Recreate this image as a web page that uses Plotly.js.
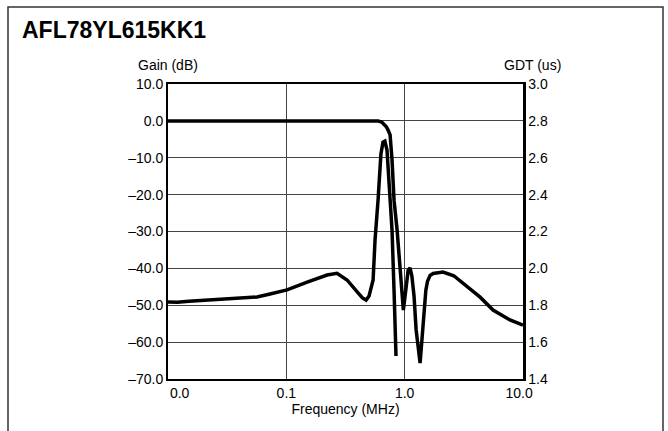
<!DOCTYPE html>
<html>
<head>
<meta charset="utf-8">
<script src="https://cdn.plot.ly/plotly-3.0.1.min.js"></script>
<style>
html,body{margin:0;padding:0;background:#fff;}
#chart{width:668px;height:431px;}
</style>
</head>
<body>
<div id="chart"></div>
<script>
// Frequency tick positions and labels (end labels padded so they sit inside the frame, as in the original)
const NB = "\u00a0";
const xTickVals = [0.01, 0.1, 1, 10];
const xTickText = [NB.repeat(6) + "0.0", "0.1", "1.0", "10.0" + NB.repeat(2)];
// Left axis (Gain) ticks
const gainTickVals = [10, 0, -10, -20, -30, -40, -50, -60, -70];
const gainTickText = ["10.0", "0.0", "\u201310.0", "\u201320.0", "\u201330.0", "\u201340.0", "\u201350.0", "\u201360.0", "\u201370.0"];
// Right axis (GDT) ticks
const gdtTickVals = [3.0, 2.8, 2.6, 2.4, 2.2, 2.0, 1.8, 1.6, 1.4];
const gdtTickText = ["3.0", "2.8", "2.6", "2.4", "2.2", "2.0", "1.8", "1.6", "1.4"];

// Gain series (MHz, dB)
const gainFreq = [0.01, 0.03, 0.1, 0.3, 0.5, 0.596, 0.64, 0.67, 0.70, 0.724, 0.753, 0.782, 0.813, 0.863, 0.914, 0.975, 1.03, 1.07, 1.11, 1.15, 1.20, 1.25, 1.35, 1.43, 1.51, 1.56, 1.64, 1.74, 2.11, 2.6, 3.11, 4.34, 5.58, 7.76, 10];
const gainDb   = [0, 0, 0, 0, 0, -0.05, -0.3, -0.85, -1.6, -2.5, -3.8, -10.6, -21.5, -29.6, -40.4, -51.3, -45.0, -40.5, -39.9, -42.0, -47.5, -56.7, -65.7, -56.7, -45.9, -43.5, -41.9, -41.4, -41.0, -42.0, -44.0, -47.8, -51.3, -54.0, -55.4];

// Group delay series (MHz, us)
const gdtFreq = [0.01, 0.012, 0.015, 0.02, 0.0275, 0.04, 0.0565, 0.0728, 0.1014, 0.15, 0.221, 0.268, 0.326, 0.397, 0.44, 0.472, 0.50, 0.541, 0.562, 0.596, 0.63, 0.656, 0.68, 0.709, 0.738, 0.782, 0.813, 0.845];
const gdtUs   = [1.818, 1.816, 1.822, 1.826, 1.834, 1.838, 1.845, 1.861, 1.883, 1.926, 1.964, 1.973, 1.937, 1.872, 1.840, 1.828, 1.850, 1.937, 2.154, 2.371, 2.620, 2.685, 2.690, 2.642, 2.479, 2.208, 1.883, 1.525];

const FONT = "Liberation Sans, Arial, Helvetica, sans-serif";

const traces = [
  {x: gainFreq, y: gainDb, type: "scatter", mode: "lines", name: "Gain",
   line: {color: "#000", width: 3.5}, yaxis: "y"},
  {x: gdtFreq, y: gdtUs, type: "scatter", mode: "lines", name: "GDT",
   line: {color: "#000", width: 3.5}, yaxis: "y2"}
];

const layout = {
  width: 668, height: 431,
  margin: {l: 168, r: 145, t: 84, b: 52},
  paper_bgcolor: "#fff", plot_bgcolor: "#fff",
  showlegend: false,
  font: {family: FONT, size: 14, color: "#000"},
  title: {text: "<b>AFL78YL615KK1</b>", x: 22/668, xanchor: "left", xref: "container",
          y: 1 - 30/431, yanchor: "middle", yref: "container",
          font: {family: FONT, size: 23, color: "#000"}},
  xaxis: {type: "log", range: [-2, 1], tickvals: xTickVals, ticktext: xTickText,
          showgrid: true, gridcolor: "#444", gridwidth: 1, zeroline: false,
          showline: true, linecolor: "#000", linewidth: 2, mirror: true,
          ticks: "", tickfont: {size: 14},
          title: {text: "Frequency (MHz)", standoff: 0, font: {size: 14}}},
  yaxis: {range: [-70, 10], tickvals: gainTickVals, ticktext: gainTickText,
          showgrid: true, gridcolor: "#444", gridwidth: 1, zeroline: false,
          showline: true, linecolor: "#000", linewidth: 2, ticks: "", tickfont: {size: 14}},
  yaxis2: {range: [1.4, 3.0], overlaying: "y", side: "right",
           tickvals: gdtTickVals, ticktext: gdtTickText,
           showgrid: false, zeroline: false,
           showline: true, linecolor: "#000", linewidth: 2.5, ticks: "", tickfont: {size: 14}},
  annotations: [
    {text: "Gain (dB)", xref: "paper", yref: "paper", x: 0.0, y: (379-65)/295,
     xanchor: "center", yanchor: "middle", showarrow: false, font: {size: 14}},
    {text: "GDT (us)", xref: "paper", yref: "paper", x: (532-168)/355, y: (379-65)/295,
     xanchor: "center", yanchor: "middle", showarrow: false, font: {size: 14}}
  ],
  shapes: [
    {type: "rect", xref: "paper", yref: "paper",
     x0: (8-168)/355, x1: (663-168)/355, y0: (379-445)/295, y1: (379-7)/295,
     line: {color: "#333", width: 1.5}, fillcolor: "rgba(0,0,0,0)", layer: "below"}
  ]
};

Plotly.newPlot("chart", traces, layout, {displayModeBar: false, staticPlot: true});
</script>
</body>
</html>
